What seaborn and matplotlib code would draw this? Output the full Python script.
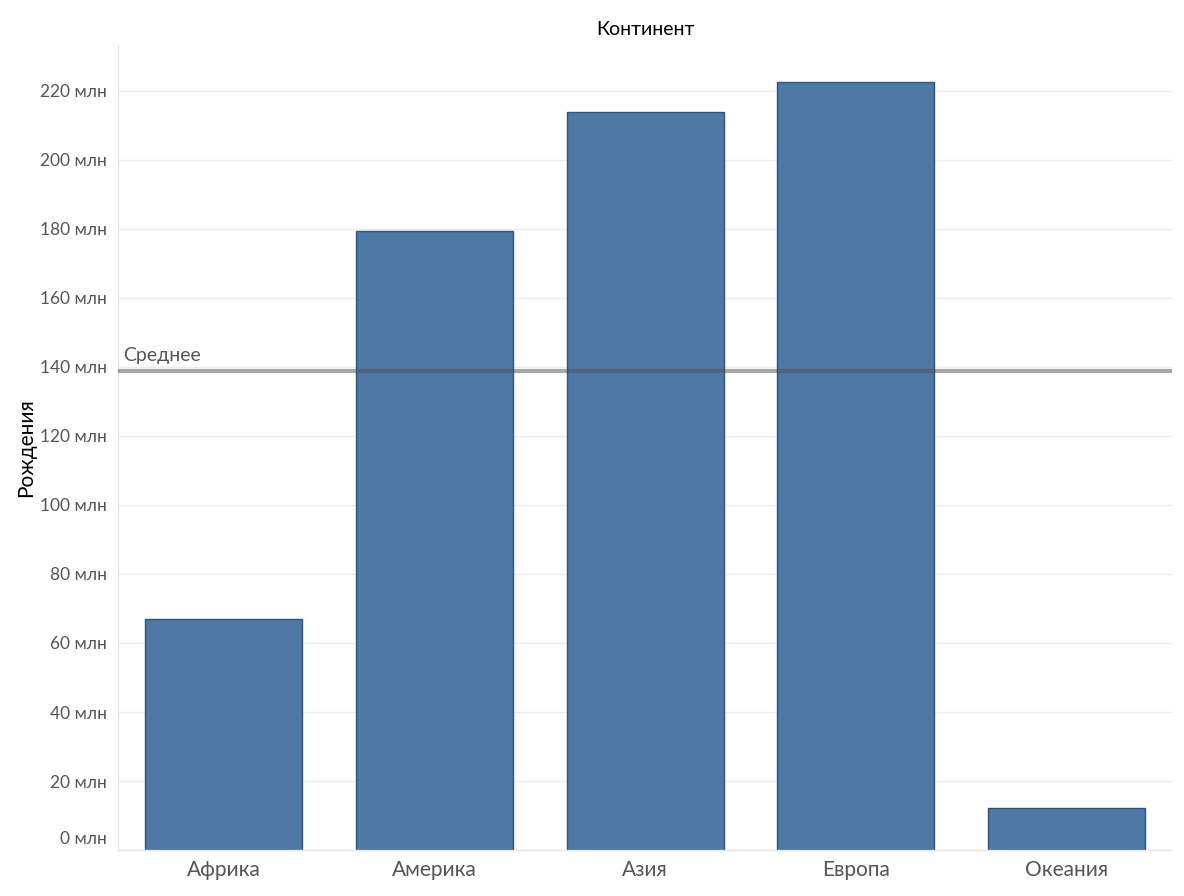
import numpy as np
import pandas as pd
import matplotlib
matplotlib.use("Agg")
import matplotlib.pyplot as plt
import matplotlib.transforms as mtransforms
from matplotlib.ticker import FuncFormatter, FixedLocator
import seaborn as sns

# --- данные ---
continents = ["Африка", "Америка", "Азия", "Европа", "Океания"]
births = [67.0e6, 179.3e6, 213.9e6, 222.5e6, 12.1e6]
y_ticks = list(range(0, 240_000_000, 20_000_000))

df = pd.DataFrame({"Континент": continents, "Рождения": births})
mean_val = df["Рождения"].mean()

sns.set_theme(style="white")
plt.rcParams["font.family"] = ["Lato", "DejaVu Sans"]

fig = plt.figure(figsize=(11.84, 8.96), dpi=100)
ax = fig.add_axes([0.0997, 0.0513, 0.8902, 0.8985])

sns.barplot(data=df, x="Континент", y="Рождения", color="#4e79a7",
            saturation=1, width=0.745, edgecolor="#2f5577", linewidth=1, ax=ax)

ax.set_ylim(0, 233.3e6)
ax.set_xlim(-0.5, len(continents) - 0.5)
ax.yaxis.set_major_locator(FixedLocator(y_ticks))
ax.yaxis.set_major_formatter(FuncFormatter(lambda v, p: f"{int(round(v / 1e6))} млн"))
ax.grid(axis="y", color="#ececec", linewidth=1)
ax.set_axisbelow(True)

# линия среднего (полупрозрачная, темнеет поверх столбцов)
ax.axhline(mean_val, color="#505050", linewidth=3, alpha=0.5, zorder=5)
ax.annotate("Среднее", xy=(0.005, mean_val), xycoords=ax.get_yaxis_transform(),
            xytext=(0, 5), textcoords="offset points",
            ha="left", va="bottom", fontsize=14, color="#555555")

for s in ["top", "right"]:
    ax.spines[s].set_visible(False)
for s in ["left", "bottom"]:
    ax.spines[s].set_color("#e6e6e6")
    ax.spines[s].set_linewidth(1)

ax.tick_params(axis="y", length=6, color="#e6e6e6", labelsize=12.5, labelcolor="#555555", pad=2)
ax.tick_params(axis="x", length=0, labelsize=15, labelcolor="#555555", pad=7)
ax.set_xticks(np.arange(-0.5, len(continents)), minor=True)
ax.tick_params(axis="x", which="minor", length=8, color="#e6e6e6")

# подпись "0 млн" чуть выше, как в оригинале
lbl0 = ax.get_yticklabels()[0]
lbl0.set_transform(lbl0.get_transform() + mtransforms.ScaledTranslation(0, 13 / 100, fig.dpi_scale_trans))

ax.set_xlabel("")
ax.set_ylabel("Рождения", fontsize=15, color="black", labelpad=3)
ax.set_title("Континент", fontsize=14, color="black", pad=7)

fig.savefig("out.png", dpi=100)
